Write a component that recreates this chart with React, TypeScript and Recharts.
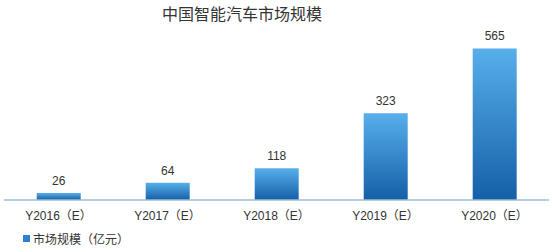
import { BarChart, Bar, XAxis, YAxis, LabelList, Legend } from "recharts";

const categories = ["Y2016（E）", "Y2017（E）", "Y2018（E）", "Y2019（E）", "Y2020（E）"];
const marketSize = [26, 64, 118, 323, 565];
const seriesName = "市场规模（亿元）";
const title = "中国智能汽车市场规模";

const data = categories.map((name, i) => ({ name, pos: i + 0.5, value: marketSize[i] }));

const FONT = "Arial, 'Liberation Sans', 'Noto Sans CJK SC', sans-serif";
const AXIS = "#9dbcd6";

// legend: small blue square + series name
const LegendContent = () => (
  <div
    style={{
      display: "flex",
      alignItems: "center",
      gap: 3,
      paddingLeft: 19,
      fontSize: 12,
      color: "#333",
      fontFamily: FONT,
    }}
  >
    <div style={{ width: 7, height: 7, background: "#2f80d0" }} />
    <span>{seriesName}</span>
  </div>
);

const App = () => {
  return (
    <div style={{ position: "absolute", left: 0, top: 0, width: 552, height: 252, background: "#fff" }}>
      <div
        style={{
          position: "absolute",
          left: 0,
          width: 484,
          top: 5,
          textAlign: "center",
          fontSize: 16,
          color: "#333",
          fontFamily: FONT,
          lineHeight: "20px",
        }}
      >
        {title}
      </div>
      <BarChart
        width={552}
        height={252}
        data={data}
        barCategoryGap="30%"
        margin={{ top: 39, right: 3, left: 4, bottom: 0 }}
      >
        <defs>
          <linearGradient id="barFill" x1="0" y1="0" x2="0" y2="1">
            <stop offset="0%" stopColor="#57afeb" />
            <stop offset="100%" stopColor="#155fa7" />
          </linearGradient>
        </defs>
        <XAxis
          xAxisId="grid"
          type="number"
          dataKey="pos"
          domain={[0, 5]}
          ticks={[1, 2, 3, 4]}
          height={0}
          axisLine={false}
          tickSize={3}
          tickLine={{ stroke: AXIS }}
          tick={() => <g />}
        />
        <XAxis
          dataKey="name"
          height={30}
          axisLine={{ stroke: AXIS, strokeWidth: 1.5 }}
          tickLine={false}
          tick={{ fill: "#333", fontSize: 12, fontFamily: FONT, dy: 3 }}
          interval={0}
        />
        <YAxis hide domain={[0, 600]} />
        <Legend verticalAlign="bottom" align="left" height={22} content={<LegendContent />} />
        <Bar dataKey="value" name={seriesName} fill="url(#barFill)" isAnimationActive={false}>
          <LabelList
            dataKey="value"
            position="top"
            offset={8}
            style={{ fill: "#333", fontSize: 12, fontFamily: FONT }}
          />
        </Bar>
      </BarChart>
    </div>
  );
};

export default App;
